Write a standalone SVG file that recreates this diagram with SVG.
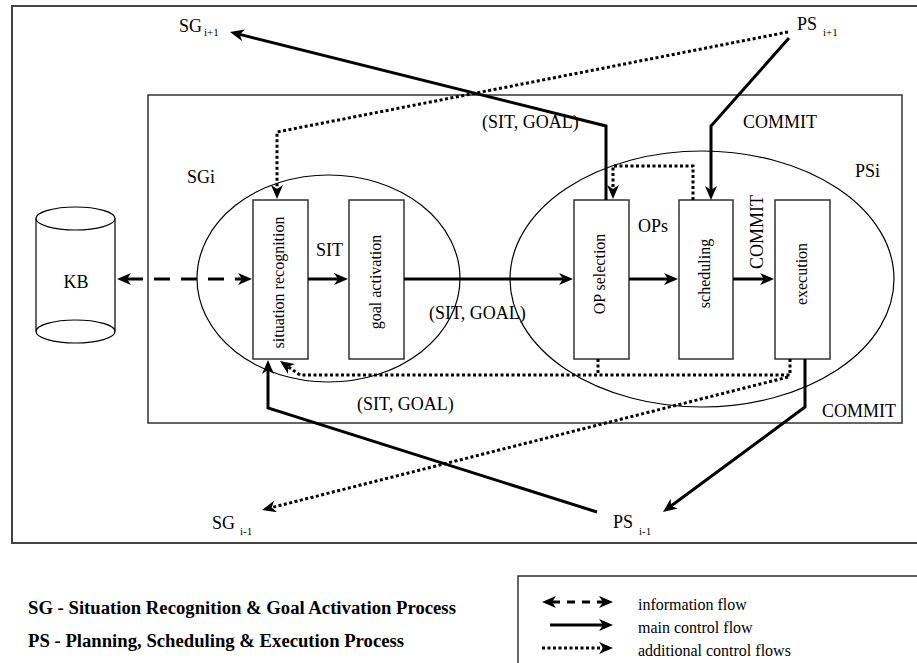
<svg xmlns="http://www.w3.org/2000/svg" width="917" height="663" viewBox="0 0 917 663">
  <defs>
    <style>
      text { font-family: "Liberation Serif", "Times New Roman", serif; fill: #000; }
      .lbl { font-size: 18px; }
      .box-lbl { font-size: 16px; text-anchor: middle; }
      .sub { font-size: 11px; }
      .legend { font-size: 16px; }
      .key { font-size: 18.7px; font-weight: bold; }
      .frame { fill: none; stroke: #444; stroke-width: 2; }
      .region { fill: none; stroke: #333; stroke-width: 1.5; }
      .proc { fill: none; stroke: #000; stroke-width: 1.2; }
      .box { fill: #fff; stroke: #333; stroke-width: 1.5; }
      .main { fill: none; stroke: #000; stroke-width: 3; stroke-linejoin: miter; }
      .dot { fill: none; stroke: #000; stroke-width: 3; stroke-dasharray: 3 2.5; }
      .dash { fill: none; stroke: #000; stroke-width: 3; stroke-dasharray: 16 11; }
    </style>
    <marker id="head" viewBox="0 0 14 12" markerUnits="userSpaceOnUse" markerWidth="14" markerHeight="12" refX="4" refY="6" orient="auto-start-reverse">
      <path d="M0,0 L14,6 L0,12 L4,6 z" fill="#000"/>
    </marker>
  </defs>

  <rect width="917" height="663" fill="#fff"/>

  <!-- outer frame (open on the right) -->
  <path class="frame" d="M917,6 H12 V543 H917"/>

  <!-- current SG / PS region -->
  <rect class="region" x="148" y="95" width="754" height="328"/>

  <!-- process ellipses -->
  <g id="sg-i">
    <ellipse class="proc" cx="328.5" cy="278.5" rx="131.5" ry="103.5"/>
    <text class="lbl" x="187" y="183">SGi</text>
  </g>
  <g id="ps-i">
    <ellipse class="proc" cx="702" cy="279" rx="192" ry="128"/>
    <text class="lbl" x="855" y="177">PSi</text>
  </g>

  <!-- knowledge base -->
  <g id="kb">
    <path class="proc" d="M36,218.5 V331.5 M115,218.5 V331.5"/>
    <ellipse class="proc" cx="75.5" cy="218.5" rx="39.5" ry="11.5"/>
    <ellipse class="proc" cx="75.5" cy="331.5" rx="39.5" ry="11.5"/>
    <text class="lbl" x="76" y="288" text-anchor="middle">KB</text>
  </g>

  <!-- processing steps -->
  <g id="situation-recognition">
    <rect class="box" x="253" y="200" width="55" height="159"/>
    <text class="box-lbl" transform="translate(284,282.5) rotate(-90)">situation recognition</text>
  </g>
  <g id="goal-activation">
    <rect class="box" x="349" y="200" width="55" height="159"/>
    <text class="box-lbl" transform="translate(380.5,282) rotate(-90)">goal activation</text>
  </g>
  <g id="op-selection">
    <rect class="box" x="574" y="200" width="55" height="159"/>
    <text class="box-lbl" transform="translate(605,274) rotate(-90)">OP selection</text>
  </g>
  <g id="scheduling">
    <rect class="box" x="679" y="200" width="54" height="159"/>
    <text class="box-lbl" transform="translate(710,273.5) rotate(-90)">scheduling</text>
  </g>
  <g id="execution">
    <rect class="box" x="775" y="200" width="55" height="159"/>
    <text class="box-lbl" transform="translate(806.5,274) rotate(-90)">execution</text>
  </g>

  <!-- neighbouring processes -->
  <g id="sg-next">
    <text class="lbl" x="179" y="32">SG</text>
    <text class="sub" x="204" y="36">i+1</text>
  </g>
  <g id="ps-next">
    <text class="lbl" x="797" y="30">PS</text>
    <text class="sub" x="823" y="36">i+1</text>
  </g>
  <g id="sg-prev">
    <text class="lbl" x="212" y="529">SG</text>
    <text class="sub" x="240" y="535">i-1</text>
  </g>
  <g id="ps-prev">
    <text class="lbl" x="613" y="528">PS</text>
    <text class="sub" x="639" y="535">i-1</text>
  </g>

  <!-- connectors -->
  <g id="connectors">
    <!-- information flow to / from KB -->
    <path class="dash" d="M127,279 H242" marker-start="url(#head)" marker-end="url(#head)"/>

    <!-- main control flow through the steps -->
    <path class="main" d="M308,279 H338" marker-end="url(#head)"/>
    <path class="main" d="M404,279 H563" marker-end="url(#head)"/>
    <path class="main" d="M629,279 H668" marker-end="url(#head)"/>
    <path class="main" d="M733,279 H764" marker-end="url(#head)"/>

    <!-- OP selection to next SG -->
    <path class="main" d="M606,200 V126 L239.7,34.4" marker-end="url(#head)"/>
    <!-- next PS into scheduling -->
    <path class="main" d="M789,38 L711,126 V190" marker-end="url(#head)"/>
    <!-- execution to previous PS -->
    <path class="main" d="M805,359 V407 L671,506" marker-end="url(#head)"/>
    <!-- previous PS into situation recognition -->
    <path class="main" d="M597,512 L268,408 V370" marker-end="url(#head)"/>

    <!-- additional control flows -->
    <path class="dot" d="M788,32 L277,132 V189" marker-end="url(#head)"/>
    <path class="dot" d="M693,200 V166 H613 V189" marker-end="url(#head)"/>
    <path class="dot" d="M598,359 V375"/>
    <path class="dot" d="M790,359 V375 H300 L288.2,366.7" marker-end="url(#head)"/>
    <path class="dot" d="M788,377 L271.7,507.5" marker-end="url(#head)"/>

    <!-- connector labels -->
    <text class="lbl" x="316" y="256">SIT</text>
    <text class="lbl" x="429" y="319">(SIT, GOAL)</text>
    <text class="lbl" x="482" y="128">(SIT, GOAL)</text>
    <text class="lbl" x="357" y="410">(SIT, GOAL)</text>
    <text class="lbl" x="638" y="232">OPs</text>
    <text class="lbl" x="743" y="128">COMMIT</text>
    <text class="lbl" text-anchor="middle" transform="translate(763,232) rotate(-90)">COMMIT</text>
    <text class="lbl" x="822" y="417">COMMIT</text>
  </g>

  <!-- abbreviations -->
  <text class="key" x="28" y="614">SG - Situation Recognition &amp; Goal Activation Process</text>
  <text class="key" x="28" y="647">PS - Planning, Scheduling &amp; Execution Process</text>

  <!-- legend -->
  <g id="legend">
    <rect x="518" y="576" width="420" height="100" fill="none" stroke="#333" stroke-width="1.5"/>
    <path d="M552,602 H603" fill="none" stroke="#000" stroke-width="3" stroke-dasharray="8 7" marker-start="url(#head)" marker-end="url(#head)"/>
    <path class="main" d="M550,625 H603" marker-end="url(#head)"/>
    <path class="dot" d="M542,648 H603" marker-end="url(#head)"/>
    <text class="legend" x="638" y="610">information flow</text>
    <text class="legend" x="638" y="633">main control flow</text>
    <text class="legend" x="638" y="656">additional control flows</text>
  </g>
</svg>
